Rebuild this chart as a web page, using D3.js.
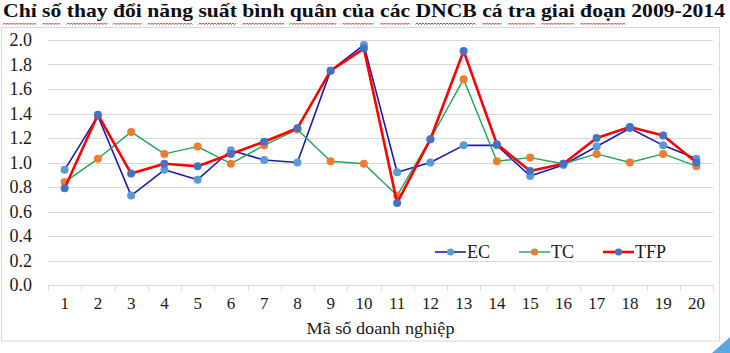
<!DOCTYPE html>
<html>
<head>
<meta charset="utf-8">
<script src="https://cdn.jsdelivr.net/npm/d3@7"></script>
<style>
  body { margin: 0; background: #fff; }
  text { font-family: "Liberation Serif", "Times New Roman", serif; }
</style>
</head>
<body>
<script>
// du lieu doc tu hinh
var categories = d3.range(1, 21).map(String);
var yTicks = [0, 0.2, 0.4, 0.6, 0.8, 1.0, 1.2, 1.4, 1.6, 1.8, 2.0];
var ecValues  = [0.94, 1.38, 0.73, 0.94, 0.86, 1.10, 1.02, 1.00, 1.75, 1.96, 0.92, 1.00, 1.14, 1.14, 0.89, 0.98, 1.13, 1.28, 1.14, 1.03];
var tcValues  = [0.84, 1.03, 1.25, 1.07, 1.13, 0.99, 1.14, 1.27, 1.01, 0.99, 0.73, 1.19, 1.68, 1.01, 1.04, 0.99, 1.07, 1.00, 1.07, 0.97];
var tfpValues = [0.79, 1.39, 0.91, 0.99, 0.97, 1.07, 1.17, 1.28, 1.75, 1.93, 0.67, 1.19, 1.91, 1.15, 0.93, 0.99, 1.20, 1.29, 1.22, 1.00];

var titleText = "Chỉ số thay đổi năng suất bình quân của các DNCB cá tra giai đoạn 2009-2014";
var xTitle = "Mã số doanh nghiệp";

var series = [
  {name: "EC",  values: ecValues,  line: "#1a1ab8", marker: "#5b9bd5", lw: 1.6},
  {name: "TC",  values: tcValues,  line: "#22a455", marker: "#ed7d31", lw: 1.4},
  {name: "TFP", values: tfpValues, line: "#ff0000", marker: "#4472c4", lw: 2.6}
];

var W = 730, H = 353;
var margin = {top: 40, right: 17, bottom: 68, left: 48},
    width = W - margin.left - margin.right,
    height = H - margin.top - margin.bottom;

var svg = d3.select("body").append("svg")
  .attr("width", W).attr("height", H);

// khung
svg.append("rect")
  .attr("x", 1.5).attr("y", 27.5)
  .attr("width", 718).attr("height", 313.5)
  .attr("fill", "#fff").attr("stroke", "#d9d9d9");

// goc trang tri
svg.append("path")
  .attr("d", "M712,353 L730,337 L730,353 Z")
  .attr("fill", "#5aa7e0");

// tieu de
var title = svg.append("text")
  .attr("x", 3).attr("y", 17)
  .attr("font-size", 19).attr("font-weight", "bold").attr("fill", "#0d0d14")
  .attr("textLength", 722).attr("lengthAdjust", "spacingAndGlyphs")
  .text(titleText);

// gach song do duoi cac tu (nhu trong hinh)
var words = titleText.split(" ");
var node = title.node();
var pos = 0, naturalW = node.getComputedTextLength(), k = 722 / naturalW;
var wave = svg.append("g").attr("fill", "none").attr("stroke", "#e02020").attr("stroke-width", 0.9);
words.forEach(function(w, i){
  if (w !== "2009-2014") {
    var x0 = 3 + node.getSubStringLength(0, pos) * k;
    var x1 = x0 + node.getSubStringLength(pos, w.length) * k;
    var d = "M" + x0 + ",24.5";
    for (var x = x0 + 1.5, up = true; x <= x1; x += 1.5, up = !up) {
      d += " L" + x + "," + (up ? 23 : 24.5);
    }
    wave.append("path").attr("d", d);
  }
  pos += w.length + 1;
});

var g = svg.append("g")
  .attr("transform", "translate(" + margin.left + "," + margin.top + ")");

var xScale = d3.scaleBand().domain(categories).range([0, width]);
var yScale = d3.scaleLinear().domain([0, 2]).range([height, 0]);

// luoi
g.append("g")
  .selectAll("line")
  .data(yTicks.slice(1))
  .enter().append("line")
  .attr("x1", 0).attr("x2", width)
  .attr("y1", function(d){ return Math.round(yScale(d)) + 0.5; })
  .attr("y2", function(d){ return Math.round(yScale(d)) + 0.5; })
  .attr("stroke", "#d9d9d9");

// truc y
var yAxis = d3.axisLeft(yScale).tickValues(yTicks).tickSize(0).tickPadding(16)
  .tickFormat(d3.format(".1f"));
g.append("g").call(yAxis)
  .call(function(s){ s.select(".domain").remove(); })
  .selectAll("text")
  .attr("font-family", "Liberation Serif").attr("font-size", 18).attr("fill", "#1a1a1a");

// truc x
var xAxis = d3.axisBottom(xScale).tickSize(0).tickPadding(12);
var xg = g.append("g").attr("transform", "translate(0," + height + ")").call(xAxis);
xg.select(".domain").attr("stroke", "#d9d9d9").attr("d", "M0,0.5H" + width);
xg.selectAll("text")
  .attr("font-family", "Liberation Serif").attr("font-size", 17).attr("fill", "#1a1a1a");
xg.selectAll(".bound")
  .data(d3.range(0, categories.length + 1))
  .enter().append("line")
  .attr("x1", function(i){ return Math.round(i * xScale.step()) + 0.5; })
  .attr("x2", function(i){ return Math.round(i * xScale.step()) + 0.5; })
  .attr("y1", 0).attr("y2", 6)
  .attr("stroke", "#d9d9d9");

g.append("text")
  .attr("x", width / 2).attr("y", height + 49)
  .attr("text-anchor", "middle")
  .attr("font-size", 17).attr("fill", "#1a1a1a")
  .attr("textLength", 148).attr("lengthAdjust", "spacingAndGlyphs")
  .text(xTitle);

var cx = function(d, i){ return xScale(categories[i]) + xScale.bandwidth() / 2; };
var line = d3.line().x(cx).y(function(d){ return yScale(d); });

series.forEach(function(s){
  var sg = g.append("g");
  sg.append("path")
    .datum(s.values)
    .attr("d", line)
    .attr("fill", "none")
    .attr("stroke", s.line)
    .attr("stroke-width", s.lw)
    .attr("stroke-linejoin", "round");
  sg.selectAll("circle")
    .data(s.values)
    .enter().append("circle")
    .attr("cx", cx)
    .attr("cy", function(d){ return yScale(d); })
    .attr("r", 4)
    .attr("fill", s.marker);
});

// chu giai
var legendX = [435, 519, 603];
var legend = svg.append("g");
series.forEach(function(s, i){
  var lg = legend.append("g").attr("transform", "translate(" + legendX[i] + ",252)");
  lg.append("line").attr("x1", 0).attr("x2", 31).attr("y1", 0).attr("y2", 0)
    .attr("stroke", s.line).attr("stroke-width", s.lw);
  lg.append("circle").attr("cx", 15.5).attr("cy", 0).attr("r", 3.6).attr("fill", s.marker);
  lg.append("text").attr("x", 32).attr("y", 6)
    .attr("font-size", 18).attr("fill", "#1a1a1a")
    .text(s.name);
});
</script>
</body>
</html>
